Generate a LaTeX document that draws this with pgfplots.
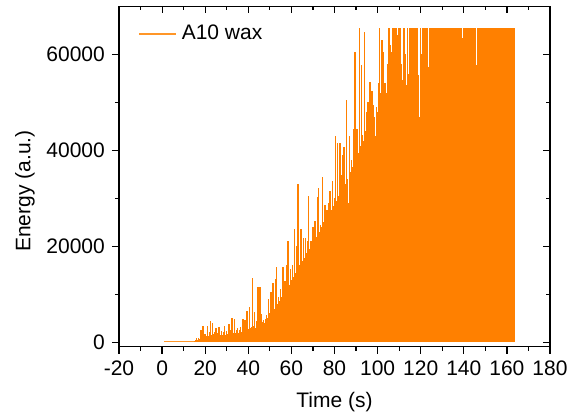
\documentclass[border=0pt]{standalone}
\usepackage{fontspec}
\setmainfont{Liberation Sans}
\usepackage{pgfplots}
\pgfplotsset{compat=1.18}
\definecolor{org}{RGB}{255,128,0}
\definecolor{orglight}{RGB}{255,150,40}
\newcommand{\bigf}{\fontsize{21}{25}\selectfont}
\begin{document}
\bigf
\begin{tikzpicture}
\begin{axis}[name=main, scale only axis, width=431pt, height=340pt,
  xmin=-20, xmax=180, ymin=-900, ymax=70000,
  scaled x ticks=false, scaled y ticks=false,
  xtick={-20,0,20,40,60,80,100,120,140,160,180},
  xticklabels={-20,0,20,40,60,80,100,120,140,160,180},
  ytick={0,20000,40000,60000}, yticklabels={0,20000,40000,60000},
  minor xtick={-10,10,30,50,70,90,110,130,150,170},
  minor ytick={10000,30000,50000},
  xtick pos=left, ytick pos=left, tick align=outside,
  major tick length=7pt, minor tick length=4pt,
  axis line style={line width=1.2pt, black},
  tick style={line width=1.2pt, black},
  every tick label/.append style={font=\bigf},
  xlabel={Time (s)}, ylabel={Energy (a.u.)},
  label style={font=\bigf},
  xlabel style={at={(axis description cs:0.5,-0.162)}, anchor=center},
  ylabel style={at={(axis description cs:-0.218,0.457)}, anchor=center},
  legend style={draw=none, fill=none, font=\bigf, at={(axis description cs:0.044,0.92)}, anchor=west, inner sep=0pt},
  legend cell align=left,
  clip=true]
\addplot[ycomb, draw=org, line width=1.45pt, mark=none,
  legend image code/.code={\draw[draw=orglight, line width=1.8pt] (0pt,0pt) -- (37pt,0pt); \path (40pt,0pt);}]
coordinates {
(15.0,300)(15.5,500)(16.0,800)(16.5,400)(17.0,900)(17.5,600)(18.0,2600)(18.5,1200)(19.0,3300)(19.5,1400)
(20.0,1800)(20.5,1200)(21.0,3400)(21.5,1300)(22.0,2200)(22.5,4400)(23.0,1500)(23.5,4000)(24.0,1700)(24.5,2200)
(25.0,2900)(25.5,1400)(26.0,2000)(26.5,3100)(27.0,1500)(27.5,2300)(28.0,1600)(28.5,2100)(29.0,3300)(29.5,1500)
(30.0,2400)(30.5,1800)(31.0,3700)(31.5,1700)(32.0,2600)(32.5,5100)(33.0,2000)(33.5,4900)(34.0,1900)(34.5,2500)
(35.0,2900)(35.5,2000)(36.0,2600)(36.5,3100)(37.0,2100)(37.5,4800)(38.0,2300)(38.5,4700)(39.0,2500)(39.5,6600)
(40.0,2800)(40.5,7300)(41.0,3000)(41.5,3200)(42.0,13400)(42.5,3300)(43.0,6300)(43.5,3000)(44.0,4400)(44.5,11600)
(45.0,3800)(45.5,11500)(46.0,5900)(46.5,4200)(47.0,4600)(47.5,4100)(48.0,4800)(48.5,5600)(49.0,5000)(49.5,9000)
(50.0,6000)(50.5,10400)(51.0,6500)(51.5,12400)(52.0,7000)(52.5,13100)(53.0,15700)(53.5,8000)(54.0,9500)(54.5,8500)
(55.0,11100)(55.5,9500)(56.0,15700)(56.5,10000)(57.0,12800)(57.5,10500)(58.0,16000)(58.5,21000)(59.0,12000)(59.5,15200)
(60.0,13000)(60.5,16000)(61.0,13500)(61.5,23700)(62.0,14500)(62.5,20000)(63.0,33000)(63.5,11500)(64.0,16000)(64.5,23500)
(65.0,17000)(65.5,21800)(66.0,17500)(66.5,21800)(67.0,18500)(67.5,21000)(68.0,30400)(68.5,19500)(69.0,21000)(69.5,20000)
(70.0,24000)(70.5,21000)(71.0,25300)(71.5,22000)(72.0,30200)(72.5,32100)(73.0,23000)(73.5,24500)(74.0,24000)(74.5,34400)
(75.0,25000)(75.5,28600)(76.0,26000)(76.5,27500)(77.0,27000)(77.5,29000)(78.0,31600)(78.5,27500)(79.0,33700)(79.5,28500)
(80.0,30000)(80.5,43000)(81.0,29500)(81.5,41500)(82.0,30500)(82.5,41500)(83.0,34900)(83.5,31500)(84.0,39000)(84.5,40800)
(85.0,33000)(85.5,50400)(86.0,34000)(86.5,29000)(87.0,43000)(87.5,35500)(88.0,38000)(88.5,36500)(89.0,44500)(89.5,60500)
(90.0,38000)(90.5,44500)(91.0,39500)(91.5,65535)(92.0,41000)(92.5,57800)(93.0,43200)(93.5,42000)(94.0,64700)(94.5,44000)
(95.0,48000)(95.5,50100)(96.0,46000)(96.5,54300)(97.0,48000)(97.5,52400)(98.0,49400)(98.5,47000)(99.0,43000)(99.5,49000)
(100.0,48000)(100.5,54000)(101.0,65535)(101.5,52000)(102.0,63000)(102.5,60500)(103.0,46500)(103.5,54000)(104.0,52000)(104.5,58000)
(105.0,65535)(105.5,65535)(106.0,62000)(106.5,60500)(107.0,65535)(107.5,65535)(108.0,65535)(108.5,65535)(109.0,64000)(109.5,62300)
(110.0,65535)(110.5,65535)(111.0,58000)(111.5,54700)(112.0,65535)(112.5,65535)(113.0,60000)(113.5,53700)(114.0,65535)(114.5,56000)
(115.0,65535)(115.5,65535)(116.0,65535)(116.5,65535)(117.0,65535)(117.5,65535)(118.0,65535)(118.5,65535)(119.0,55700)(119.5,47000)
(120.0,65535)(120.5,60000)(121.0,65535)(121.5,65535)(122.0,65535)(122.5,57400)(123.0,65535)(123.5,57400)(124.0,65535)(124.5,65535)
(125.0,65535)(125.5,65535)(126.0,65535)(126.5,65535)(127.0,65535)(127.5,57900)(128.0,65535)(128.5,64000)(129.0,65535)(129.5,65535)
(130.0,65535)(130.5,65535)(131.0,65535)(131.5,65535)(132.0,65535)(132.5,65535)(133.0,65535)(133.5,65535)(134.0,65535)(134.5,65535)
(135.0,65535)(135.5,65535)(136.0,65535)(136.5,65535)(137.0,65535)(137.5,65535)(138.0,65535)(138.5,65535)(139.0,65535)(139.5,63500)
(140.0,65535)(140.5,65535)(141.0,65535)(141.5,65535)(142.0,65535)(142.5,65535)(143.0,65535)(143.5,65535)(144.0,65535)(144.5,65535)
(145.0,65535)(145.5,65535)(146.0,57800)(146.5,65535)(147.0,65535)(147.5,65535)(148.0,65535)(148.5,65535)(149.0,65535)(149.5,65535)
(150.0,65535)(150.5,65535)(151.0,65535)(151.5,65535)(152.0,65535)(152.5,65535)(153.0,65535)(153.5,65535)(154.0,65535)(154.5,65535)
(155.0,65535)(155.5,65535)(156.0,65535)(156.5,65535)(157.0,65535)(157.5,65535)(158.0,65535)(158.5,65535)(159.0,65535)(159.5,65535)
(160.0,65535)(160.5,65535)(161.0,65535)(161.5,65535)(162.0,65535)(162.5,65535)(163.0,65535)(163.25,65535)
};
\addlegendentry{A10 wax}
\addplot[orglight, line width=1.4pt, forget plot] coordinates {(1,150)(15,150)};
\end{axis}
\begin{axis}[scale only axis, width=431pt, height=340pt,
  xmin=-20, xmax=180, ymin=-900, ymax=70000,
  scaled x ticks=false, scaled y ticks=false,
  xtick={-20,0,20,40,60,80,100,120,140,160,180}, xticklabels={},
  ytick={0,20000,40000,60000}, yticklabels={},
  minor xtick={-10,10,30,50,70,90,110,130,150,170},
  minor ytick={10000,30000,50000},
  xtick pos=right, ytick pos=right, tick align=inside,
  major tick length=7pt, minor tick length=4pt,
  axis line style={line width=1.2pt, black},
  tick style={line width=1.2pt, black}]
\end{axis}
\pgfresetboundingbox
\useasboundingbox ([shift={(-119pt,-67.5pt)}]main.south west) rectangle ([shift={(20pt,6.5pt)}]main.north east);
\end{tikzpicture}
\end{document}
